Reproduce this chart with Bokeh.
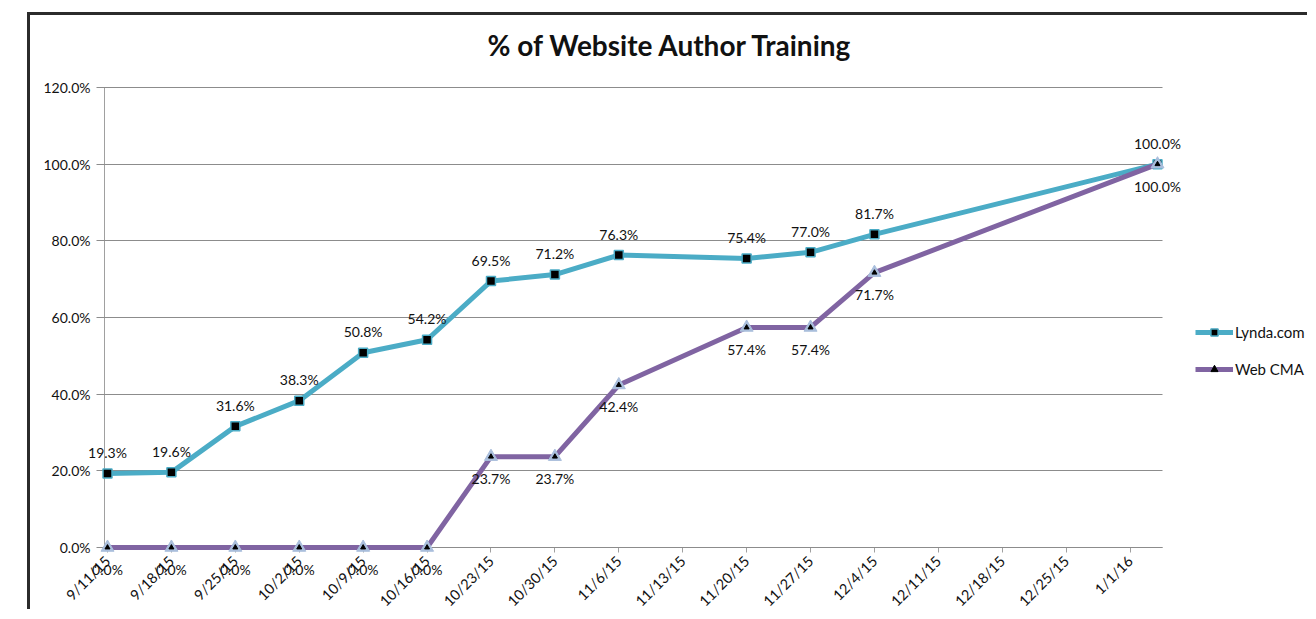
import datetime as dt
import math
from bokeh.plotting import figure
from bokeh.models import (ColumnDataSource, FixedTicker, PrintfTickFormatter, Range1d,
                          Legend, LegendItem, Title, CustomJSTickFormatter)
from bokeh.embed import file_html
from bokeh.resources import INLINE
from bokeh.core.properties import value

# ---------------- data ----------------
dates = ["2015-09-11", "2015-09-18", "2015-09-25", "2015-10-02", "2015-10-09", "2015-10-16",
         "2015-10-23", "2015-10-30", "2015-11-06", "2015-11-20", "2015-11-27", "2015-12-04",
         "2016-01-04"]
lynda = [19.3, 19.6, 31.6, 38.3, 50.8, 54.2, 69.5, 71.2, 76.3, 75.4, 77.0, 81.7, 100.0]
webcma = [0.0, 0.0, 0.0, 0.0, 0.0, 0.0, 23.7, 23.7, 42.4, 57.4, 57.4, 71.7, 100.0]
tick_dates = ["2015-09-11", "2015-09-18", "2015-09-25", "2015-10-02", "2015-10-09", "2015-10-16",
              "2015-10-23", "2015-10-30", "2015-11-06", "2015-11-13", "2015-11-20", "2015-11-27",
              "2015-12-04", "2015-12-11", "2015-12-18", "2015-12-25", "2016-01-01"]
tick_labels = ["9/11/15", "9/18/15", "9/25/15", "10/2/15", "10/9/15", "10/16/15", "10/23/15",
               "10/30/15", "11/6/15", "11/13/15", "11/20/15", "11/27/15", "12/4/15", "12/11/15",
               "12/18/15", "12/25/15", "1/1/16"]
y_ticks = [0, 20, 40, 60, 80, 100, 120]
y_min, y_max = 0, 120

title_text = "% of Website Author Training"
series_names = ["Lynda.com", "Web CMA"]
TEAL = "#4BACC6"
PURPLE = "#8064A2"
FONT = "Lato"


def to_dt(s):
    return dt.datetime.strptime(s, "%Y-%m-%d")


def to_ms(d):
    return (d - dt.datetime(1970, 1, 1)).total_seconds() * 1000.0


# ---------------- layout (pixels) ----------------
W, H = 1280, 597
BORDER_TOP = 55          # frame top inside canvas
FRAME_W = W
FRAME_H = H - BORDER_TOP
AX_LEFT_PX = 74          # y-axis line position from frame left
FIRST_PT_PX = 77         # first date position from frame left
LAST_PT_PX = 1127        # last date position from frame left
AX_RIGHT_PX = 1132       # end of x-axis from frame left
Y0_PX = 477              # y=0 from frame top
YTOP_PX = 17             # y=120 from frame top

d_first = to_dt(dates[0])
days_span = (to_dt(dates[-1]) - d_first).total_seconds() / 86400.0
ppd = (LAST_PT_PX - FIRST_PT_PX) / days_span


def px_to_date(px):
    return d_first + dt.timedelta(days=(px - FIRST_PT_PX) / ppd)


ppu = (Y0_PX - YTOP_PX) / (y_max - y_min)
x_lo, x_hi = px_to_date(0), px_to_date(FRAME_W)
y_hi = y_max + YTOP_PX / ppu
y_lo = y_min - (FRAME_H - Y0_PX) / ppu
ax_x0, ax_x1 = px_to_date(AX_LEFT_PX), px_to_date(AX_RIGHT_PX)

xs = [to_dt(d) for d in dates]
src = ColumnDataSource(dict(
    x=xs, lynda=lynda, webcma=webcma,
    lynda_lbl=[f"{v:.1f}%" for v in lynda],
    webcma_lbl=[f"{v:.1f}%" for v in webcma],
))

p = figure(width=W, height=H, output_backend="svg", toolbar_location=None,
           x_axis_type="datetime", x_range=Range1d(x_lo, x_hi), y_range=Range1d(y_lo, y_hi),
           min_border_left=0, min_border_right=0, min_border_top=BORDER_TOP, min_border_bottom=0)
p.margin = (12, 0, 0, 27)
p.styles = {"border-top": "3px solid #2b2b2b", "border-left": "3px solid #2b2b2b"}
p.outline_line_color = None
p.background_fill_color = "white"
p.border_fill_color = "white"

title = Title(text=title_text, align="center", text_font=FONT,
              text_font_size="28px", text_font_style="bold", text_color="#111111",
              standoff=18)
p.add_layout(title, "above")

p.xgrid.visible = False
p.ygrid.visible = False

# y axis: ticks extended inward act as horizontal gridlines
p.yaxis.fixed_location = to_ms(ax_x0)
p.yaxis.bounds = (y_min, y_max)
p.yaxis.level = "underlay"
p.yaxis.ticker = FixedTicker(ticks=y_ticks)
p.yaxis.formatter = PrintfTickFormatter(format="%.1f%%")
p.yaxis.axis_line_color = "#a0a0a0"
p.yaxis.major_tick_line_color = "#8c8c8c"
p.yaxis.major_tick_out = 8
p.yaxis.major_tick_in = AX_RIGHT_PX - AX_LEFT_PX
p.yaxis.minor_tick_line_color = None
p.yaxis.major_label_text_font = FONT
p.yaxis.major_label_text_font_size = "14px"
p.yaxis.major_label_text_color = "#111111"
p.yaxis.major_label_standoff = 6

tick_ms = [to_ms(to_dt(d)) for d in tick_dates]
p.xaxis.fixed_location = 0
p.xaxis.bounds = (ax_x0, ax_x1)
p.xaxis.level = "underlay"
p.xaxis.ticker = FixedTicker(ticks=tick_ms)
p.xaxis.formatter = CustomJSTickFormatter(args=dict(tvals=tick_ms, tlbls=tick_labels), code="""
    let best = -1, bd = 1e30;
    for (let i = 0; i < tvals.length; i++) {
        const d = Math.abs(tvals[i] - tick);
        if (d < bd) { bd = d; best = i; }
    }
    return (best >= 0 && bd < 3600000) ? tlbls[best] : '';
""")
p.xaxis.axis_line_color = "#a0a0a0"
p.xaxis.major_tick_line_color = "#a0a0a0"
p.xaxis.major_tick_out = 5
p.xaxis.major_tick_in = 0
p.xaxis.minor_tick_line_color = None
p.xaxis.major_label_orientation = math.pi / 4
p.xaxis.major_label_text_font = FONT
p.xaxis.major_label_text_font_size = "14.5px"
p.xaxis.major_label_text_color = "#111111"
p.xaxis.major_label_standoff = 6

# series
l1 = p.line("x", "lynda", source=src, line_color=TEAL, line_width=5)
m1 = p.scatter("x", "lynda", source=src, marker="square", size=9, fill_color="black",
               line_color=TEAL, line_width=1.5)
l2 = p.line("x", "webcma", source=src, line_color=PURPLE, line_width=5)
m2 = p.scatter("x", "webcma", source=src, marker="triangle", size=13, fill_color="#a9bedc",
               line_color="#a9bedc", line_width=1)
m2b = p.scatter("x", "webcma", source=src, marker="triangle", size=5, fill_color="black",
                line_color="black")

# data labels
p.text("x", "lynda", text="lynda_lbl", source=src, y_offset=-21, text_align="center",
       text_baseline="middle", text_font=value(FONT), text_font_size="14px", text_color="#111111")
p.text("x", "webcma", text="webcma_lbl", source=src, y_offset=22, text_align="center",
       text_baseline="middle", text_font=value(FONT), text_font_size="14px", text_color="#111111")

legend = Legend(items=[LegendItem(label=series_names[0], renderers=[l1, m1]),
                       LegendItem(label=series_names[1], renderers=[l2, m2, m2b])],
                location=(1165, 234), orientation="vertical",
                label_text_font=FONT, label_text_font_size="15px", label_text_color="#111111",
                glyph_width=38, glyph_height=18, spacing=19, padding=2, margin=0,
                label_standoff=2, background_fill_alpha=0, border_line_color=None)
p.add_layout(legend, "center")

open("out.html", "w").write(file_html(p, INLINE))
